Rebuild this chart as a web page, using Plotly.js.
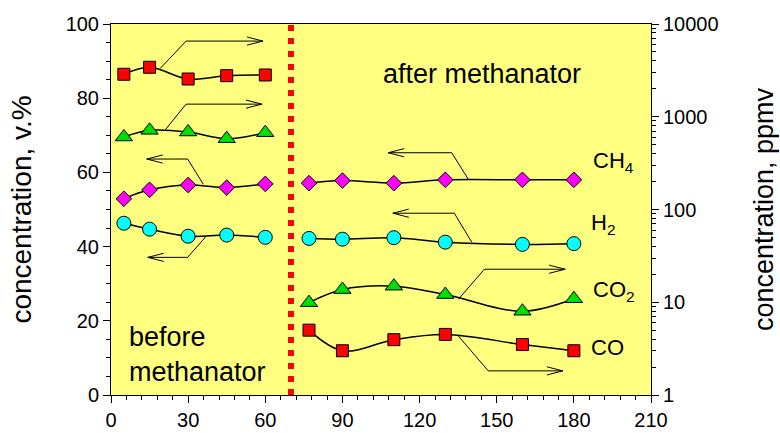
<!DOCTYPE html>
<html>
<head>
<meta charset="utf-8">
<script src="https://cdn.plot.ly/plotly-3.0.1.min.js"></script>
<style>
  html, body { margin: 0; padding: 0; background: #ffffff; }
  #chart { width: 780px; height: 433px; }
</style>
</head>
<body>
<div id="chart"></div>
<script>
// Sampling times, min
const timeBefore = [5, 15, 30, 45, 60];
const timeAfter = [77, 90, 110, 130, 160, 180];

// Main components, v.% (left axis)
const ch4Before = [52.9, 55.3, 56.6, 55.9, 56.9];
const h2Before = [46.3, 44.7, 42.8, 43.1, 42.5];
const ch4After = [57.1, 57.8, 57.1, 58.0, 58.0, 58.0];
const h2After = [42.2, 42.0, 42.4, 41.2, 40.6, 40.8];

// Trace components, ppmv (right, logarithmic axis)
const coBefore = [2870, 3415, 2553, 2772, 2820];
const co2Before = [605, 714, 685, 580, 673];
const co2After = [9.9, 13.7, 14.9, 12.1, 8.0, 10.9];
const coAfter = [5.0, 3.0, 3.95, 4.5, 3.5, 3.0];

// Axis ticks
const xTicks = [0, 30, 60, 90, 120, 150, 180, 210];
const leftTicks = [0, 20, 40, 60, 80, 100];
const rightTicks = [1, 10, 100, 1000, 10000];
const rightTickText = ['1', '10', '100', '1000', '10000'];

// Switch-over time between the two sampling points
const switchTime = 70;

const FONT = 'Liberation Sans, Arial, sans-serif';

function series(x, y, axis, symbol, color, size) {
  return {
    x: x, y: y, yaxis: axis, type: 'scatter', mode: 'lines+markers',
    line: { color: '#000000', width: 1.5, shape: 'spline', smoothing: 1 },
    marker: { symbol: symbol, color: color, size: size, line: { color: '#000000', width: 1 } },
    cliponaxis: false, showlegend: false, hoverinfo: 'x+y'
  };
}

const data = [
  series(timeBefore, coBefore, 'y2', 'square', '#FF0000', 12),
  series(timeBefore, co2Before, 'y2', 'triangle-up', '#00E000', 15),
  series(timeBefore, ch4Before, 'y', 'diamond', '#FF00FF', 12),
  series(timeBefore, h2Before, 'y', 'circle', '#00FFFF', 14),
  series(timeAfter, ch4After, 'y', 'diamond', '#FF00FF', 12),
  series(timeAfter, h2After, 'y', 'circle', '#00FFFF', 14),
  series(timeAfter, co2After, 'y2', 'triangle-up', '#00E000', 15),
  series(timeAfter, coAfter, 'y2', 'square', '#FF0000', 12)
];

// Pointer arrows: [start, bend, end] in (time, v.%) units; head points along the last segment
const pointers = [
  [[19.1, 88.0], [29.2, 95.4], [59.1, 95.4]],
  [[21.0, 71.4], [29.2, 78.4], [58.7, 78.4]],
  [[35.9, 56.8], [29.8, 63.6], [13.9, 63.6]],
  [[36.9, 42.7], [29.8, 37.1], [14.3, 37.1]],
  [[139.0, 58.1], [132.5, 65.3], [107.8, 65.3]],
  [[140.3, 41.2], [133.5, 49.0], [109.6, 49.0]],
  [[135.1, 25.8], [145.2, 33.9], [176.6, 33.9]],
  [[135.1, 15.9], [146.7, 6.5], [175.7, 6.5]]
];
const headLen = 6.2;   // in time units
const headHalf = 1.1;  // in v.% units

const shapes = [{
  type: 'line', xref: 'x', yref: 'paper', x0: switchTime, x1: switchTime, y0: 0, y1: 1,
  line: { color: '#FF0000', width: 6, dash: '6px,7px' }
}];
pointers.forEach(p => {
  const [a, b, c] = p;
  const dir = c[0] > b[0] ? 1 : -1;
  const hx = c[0] - dir * headLen;
  shapes.push({
    type: 'path', xref: 'x', yref: 'y',
    path: `M${a[0]},${a[1]} L${b[0]},${b[1]} L${c[0]},${c[1]} M${hx},${c[1] + headHalf} L${c[0]},${c[1]} L${hx},${c[1] - headHalf}`,
    line: { color: '#000000', width: 1 }
  });
});

const labelFont = { family: FONT, size: 22, color: '#000000' };
const bigFont = { family: FONT, size: 27, color: '#000000' };
const annotations = [
  { x: 105, y: 86.5, text: 'after methanator', font: bigFont },
  { x: 6.2, y: 10.8, text: 'before<br>methanator', font: bigFont, align: 'left' },
  { x: 186.5, y: 62.8, text: 'CH<sub>4</sub>', font: labelFont },
  { x: 185.9, y: 46.0, text: 'H<sub>2</sub>', font: labelFont },
  { x: 186.5, y: 28.0, text: 'CO<sub>2</sub>', font: labelFont },
  { x: 185.9, y: 12.9, text: 'CO', font: labelFont }
].map(a => Object.assign({ xref: 'x', yref: 'y', xanchor: 'left', yanchor: 'middle', showarrow: false }, a));

const axisCommon = {
  showline: true, linecolor: '#000000', linewidth: 1,
  ticks: 'outside', ticklen: 7, tickwidth: 1, tickcolor: '#000000',
  showgrid: false, zeroline: false,
  tickfont: { family: FONT, size: 20, color: '#000000' }
};

const layout = {
  width: 780, height: 433,
  margin: { l: 111, r: 129, t: 24, b: 38, pad: 0 },
  paper_bgcolor: '#FFFFFF', plot_bgcolor: '#FFFF80',
  font: { family: FONT, color: '#000000' },
  xaxis: Object.assign({}, axisCommon, {
    range: [0, 210], tickmode: 'array', tickvals: xTicks, mirror: true,
    minor: { dtick: 6, tick0: 0, ticks: 'outside', ticklen: 4, tickcolor: '#000000' }
  }),
  yaxis: Object.assign({}, axisCommon, {
    range: [0, 100], tickmode: 'array', tickvals: leftTicks,
    minor: { dtick: 5, tick0: 0, ticks: 'outside', ticklen: 4, tickcolor: '#000000' },
    title: { text: 'concentration, v.%', font: { family: FONT, size: 28, color: '#000000' }, standoff: 25 }
  }),
  yaxis2: Object.assign({}, axisCommon, {
    overlaying: 'y', side: 'right', type: 'log', range: [0, 4],
    tickmode: 'array', tickvals: rightTicks, ticktext: rightTickText,
    minor: { dtick: 'D1', ticks: 'outside', ticklen: 4, tickcolor: '#000000' },
    title: { text: 'concentration, ppmv', font: { family: FONT, size: 27, color: '#000000' }, standoff: 36 }
  }),
  shapes: shapes,
  annotations: annotations
};

Plotly.newPlot('chart', data, layout, { staticPlot: true, displayModeBar: false });
</script>
</body>
</html>
